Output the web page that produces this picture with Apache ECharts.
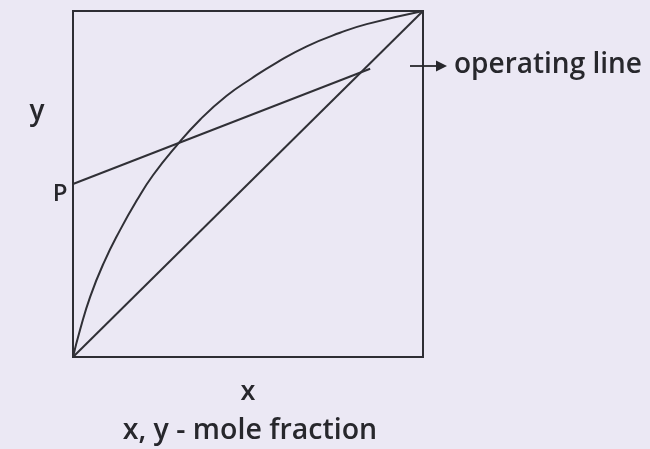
<!DOCTYPE html>
<html>
<head>
<meta charset="utf-8">
<script src="https://cdn.jsdelivr.net/npm/echarts@6/dist/echarts.min.js"></script>
<style>
html,body{margin:0;padding:0;background:#ebe8f4;}
#c{width:650px;height:449px;}
</style>
</head>
<body>
<div id="c"></div>
<script>
// Equilibrium curve (x, y mole fractions)
const eqX = [0, 0.02, 0.049, 0.087, 0.134, 0.182, 0.229, 0.296, 0.365, 0.439, 0.51, 0.582, 0.668, 0.763, 0.839, 1];
const eqY = [0, 0.078, 0.174, 0.27, 0.366, 0.452, 0.526, 0.611, 0.688, 0.755, 0.805, 0.851, 0.898, 0.937, 0.962, 1];
// 45-degree diagonal y = x
const diagX = [0, 1];
const diagY = [0, 1];
// Operating line from P on the y-axis
const opX = [0, 0.849];
const opY = [0.5, 0.833];
const labels = { x: 'x', y: 'y', p: 'P', op: 'operating line', caption: 'x, y - mole fraction' };

const zip = (a, b) => a.map((v, i) => [v, b[i]]);
const lineColor = '#303036';
const textColor = '#27272c';
const font = '"Open Sans", "Noto Sans", sans-serif';

const chart = echarts.init(document.getElementById('c'), null, { renderer: 'canvas' });
chart.setOption({
  backgroundColor: '#ebe8f4',
  animation: false,
  grid: { left: 73, right: 227, top: 11, bottom: 92, show: true, borderColor: '#2e2e34', borderWidth: 2, backgroundColor: 'transparent' },
  xAxis: {
    type: 'value', min: 0, max: 1,
    axisLine: { show: false }, axisTick: { show: false }, axisLabel: { show: false }, splitLine: { show: false },
    name: labels.x, nameLocation: 'middle', nameGap: 22,
    nameTextStyle: { fontFamily: font, fontWeight: 600, fontSize: 27, color: textColor }
  },
  yAxis: {
    type: 'value', min: 0, max: 1,
    axisLine: { show: false }, axisTick: { show: false }, axisLabel: { show: false }, splitLine: { show: false }
  },
  series: [
    { type: 'line', data: zip(eqX, eqY), smooth: 0.5, symbol: 'none', lineStyle: { color: lineColor, width: 2 } },
    { type: 'line', data: zip(diagX, diagY), symbol: 'none', lineStyle: { color: lineColor, width: 2 } },
    { type: 'line', data: zip(opX, opY), symbol: 'none', lineStyle: { color: lineColor, width: 2 },
      markPoint: {
        symbol: 'circle', symbolSize: 1,
        itemStyle: { color: 'transparent' },
        data: [{ coord: [opX[0], opY[0]], value: labels.p,
          label: { show: true, position: 'left', distance: 5, offset: [0, 10], formatter: labels.p,
            fontFamily: font, fontWeight: 600, fontSize: 24, color: textColor } }]
      }
    }
  ],
  graphic: [
    { type: 'text', x: 37, y: 112, style: { text: labels.y, textAlign: 'center', textVerticalAlign: 'middle', fontFamily: font, fontWeight: 600, fontSize: 28, fill: textColor } },
    { type: 'line', shape: { x1: 410, y1: 66, x2: 439, y2: 66 }, style: { stroke: textColor, lineWidth: 1.8 } },
    { type: 'polygon', shape: { points: [[436, 60.5], [447, 66], [436, 71.5]] }, style: { fill: textColor } },
    { type: 'text', x: 454, y: 65, style: { text: labels.op, textAlign: 'left', textVerticalAlign: 'middle', fontFamily: font, fontWeight: 600, fontSize: 28, fill: textColor } },
    { type: 'text', x: 250, y: 431, style: { text: labels.caption, textAlign: 'center', textVerticalAlign: 'middle', fontFamily: font, fontWeight: 600, fontSize: 28.5, fill: textColor } }
  ]
});
</script>
</body>
</html>
